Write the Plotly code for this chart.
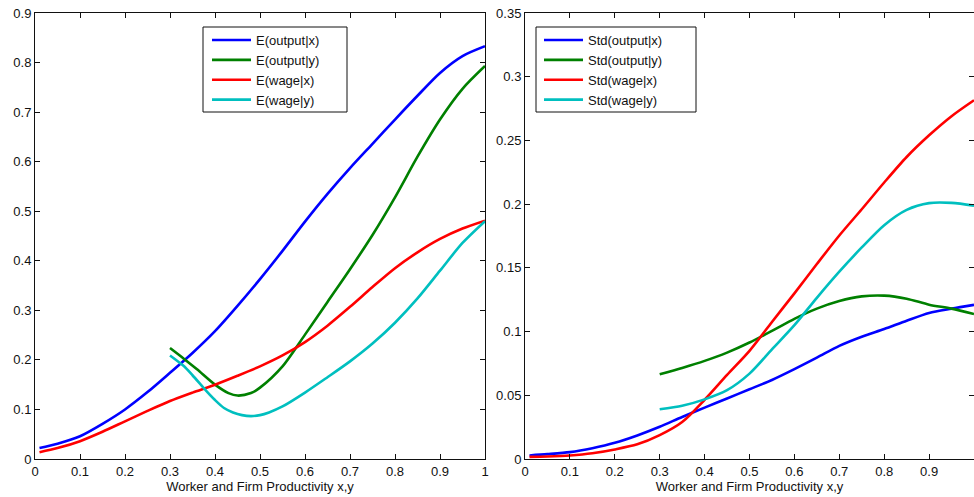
import plotly.graph_objects as go

# ---------------- data ----------------
x_full = [0.01, 0.05, 0.1, 0.15, 0.2, 0.25, 0.3, 0.35, 0.4, 0.45, 0.5,
          0.55, 0.6, 0.65, 0.7, 0.75, 0.8, 0.85, 0.9, 0.95, 1.0]

# Left panel: conditional means
e_output_x = [0.022, 0.031, 0.046, 0.071, 0.100, 0.135, 0.174, 0.214, 0.258, 0.309, 0.363,
              0.420, 0.479, 0.535, 0.587, 0.636, 0.685, 0.733, 0.779, 0.813, 0.833]
e_wage_x = [0.0137, 0.022, 0.036, 0.055, 0.076, 0.097, 0.117, 0.134, 0.150, 0.168, 0.187,
            0.209, 0.236, 0.269, 0.307, 0.347, 0.385, 0.417, 0.444, 0.465, 0.481]

x_out_y = [0.3, 0.33, 0.36, 0.4, 0.43, 0.45, 0.48, 0.5, 0.55, 0.6, 0.65, 0.7,
           0.75, 0.8, 0.85, 0.9, 0.95, 1.0]
e_output_y = [0.224, 0.203, 0.181, 0.150, 0.133, 0.128, 0.133, 0.144, 0.187, 0.251, 0.317, 0.383,
              0.452, 0.528, 0.610, 0.685, 0.747, 0.793]

x_wage_y = [0.3, 0.33, 0.35, 0.38, 0.4, 0.42, 0.44, 0.46, 0.48, 0.5, 0.52, 0.55, 0.6, 0.65, 0.7,
            0.75, 0.8, 0.85, 0.9, 0.95, 1.0]
e_wage_y = [0.209, 0.188, 0.169, 0.138, 0.119, 0.103, 0.094, 0.0885, 0.0865, 0.0885, 0.094, 0.106,
            0.134, 0.165, 0.197, 0.233, 0.275, 0.324, 0.380, 0.436, 0.480]

# Right panel: conditional standard deviations
std_output_x = [0.0028, 0.0038, 0.0054, 0.0085, 0.0127, 0.0185, 0.0253, 0.033, 0.0403, 0.0475, 0.0547,
                0.062, 0.0705, 0.0795, 0.0888, 0.096, 0.102, 0.1085, 0.1146, 0.118, 0.121]
std_wage_x = [0.0017, 0.002, 0.0028, 0.0045, 0.0075, 0.0115, 0.0187, 0.029, 0.0465, 0.066, 0.0849,
              0.1075, 0.130, 0.153, 0.1754, 0.196, 0.217, 0.237, 0.254, 0.269, 0.2815]

x_y = [0.3, 0.35, 0.4, 0.45, 0.5, 0.55, 0.6, 0.65, 0.7, 0.75, 0.8, 0.85, 0.9, 0.95, 1.0]
std_output_y = [0.0665, 0.0715, 0.077, 0.0835, 0.0914, 0.1005, 0.110, 0.118, 0.124, 0.1276, 0.1282,
                0.1258, 0.1211, 0.118, 0.1138]
std_wage_y = [0.039, 0.0418, 0.0468, 0.054, 0.067, 0.086, 0.105, 0.1265, 0.147, 0.166, 0.1835,
              0.1955, 0.2008, 0.201, 0.1988]

x_ticks = [0, 0.1, 0.2, 0.3, 0.4, 0.5, 0.6, 0.7, 0.8, 0.9, 1.0]
x_tick_labels = ["0", "0.1", "0.2", "0.3", "0.4", "0.5", "0.6", "0.7", "0.8", "0.9", "1"]
y1_ticks = [0, 0.1, 0.2, 0.3, 0.4, 0.5, 0.6, 0.7, 0.8, 0.9]
y1_tick_labels = ["0", "0.1", "0.2", "0.3", "0.4", "0.5", "0.6", "0.7", "0.8", "0.9"]
y2_ticks = [0, 0.05, 0.1, 0.15, 0.2, 0.25, 0.3, 0.35]
y2_tick_labels = ["0", "0.05", "0.1", "0.15", "0.2", "0.25", "0.3", "0.35"]

x_title = "Worker and Firm Productivity x,y"

BLUE, GREEN, RED, CYAN = "#0000FF", "#008000", "#FF0000", "#00BFBF"

# ---------------- figure ----------------
W, H = 974, 497
fig = go.Figure()
LW = 2.6


def add(x, y, name, color, xa, ya, leg):
    fig.add_trace(go.Scatter(x=x, y=y, name=name, mode="lines",
                             line=dict(color=color, width=LW, shape="spline", smoothing=0.8),
                             xaxis=xa, yaxis=ya, legend=leg, hoverinfo="skip"))


add(x_full, e_output_x, "E(output|x)", BLUE, "x", "y", "legend")
add(x_out_y, e_output_y, "E(output|y)", GREEN, "x", "y", "legend")
add(x_full, e_wage_x, "E(wage|x)", RED, "x", "y", "legend")
add(x_wage_y, e_wage_y, "E(wage|y)", CYAN, "x", "y", "legend")

add(x_full, std_output_x, "Std(output|x)", BLUE, "x2", "y2", "legend2")
add(x_y, std_output_y, "Std(output|y)", GREEN, "x2", "y2", "legend2")
add(x_full, std_wage_x, "Std(wage|x)", RED, "x2", "y2", "legend2")
add(x_y, std_wage_y, "Std(wage|y)", CYAN, "x2", "y2", "legend2")

FONT = dict(family="Liberation Sans, Arial, sans-serif", size=13, color="#111111")


def px_x(p):
    return p / W


def px_y(p):
    return 1 - p / H


axis_common = dict(showline=True, linecolor="#111111", linewidth=1, mirror="ticks",
                   ticks="inside", ticklen=5, tickcolor="#111111", tickwidth=1,
                   showgrid=False, zeroline=False, tickfont=FONT, automargin=False)

ydom = [px_y(459), px_y(13)]
fig.update_layout(
    width=W, height=H,
    margin=dict(l=0, r=0, t=0, b=0),
    paper_bgcolor="white", plot_bgcolor="white",
    font=FONT,
    xaxis=dict(domain=[px_x(35), px_x(485)], range=[0, 1], anchor="y",
               tickvals=x_ticks, ticktext=x_tick_labels,
               title=dict(text=x_title, font=FONT, standoff=2), **axis_common),
    yaxis=dict(domain=ydom, range=[0, 0.9], anchor="x",
               tickvals=y1_ticks, ticktext=y1_tick_labels, **axis_common),
    xaxis2=dict(domain=[px_x(525), 1.0], range=[0, 1], anchor="y2",
                tickvals=x_ticks, ticktext=x_tick_labels,
                title=dict(text=x_title, font=FONT, standoff=2), **axis_common),
    yaxis2=dict(domain=ydom, range=[0, 0.35], anchor="x2",
                tickvals=y2_ticks, ticktext=y2_tick_labels, **axis_common),
    legend=dict(x=px_x(207), y=px_y(25), xanchor="left", yanchor="top",
                bgcolor="rgba(0,0,0,0)", borderwidth=0, font=FONT, itemwidth=39,
                tracegroupgap=0),
    legend2=dict(x=px_x(539), y=px_y(25), xanchor="left", yanchor="top",
                 bgcolor="rgba(0,0,0,0)", borderwidth=0, font=FONT, itemwidth=39,
                 tracegroupgap=0),
    shapes=[
        dict(type="rect", xref="paper", yref="paper",
             x0=px_x(203), x1=px_x(347), y0=px_y(112), y1=px_y(27),
             line=dict(color="#111111", width=1), fillcolor="white", layer="above"),
        dict(type="rect", xref="paper", yref="paper",
             x0=px_x(536), x1=px_x(696), y0=px_y(112), y1=px_y(27),
             line=dict(color="#111111", width=1), fillcolor="white", layer="above"),
    ],
    showlegend=True,
)

fig.write_html("out.html",
               config={"displayModeBar": False},
               post_script="document.body.style.margin='0px';document.body.style.overflow='hidden';")
